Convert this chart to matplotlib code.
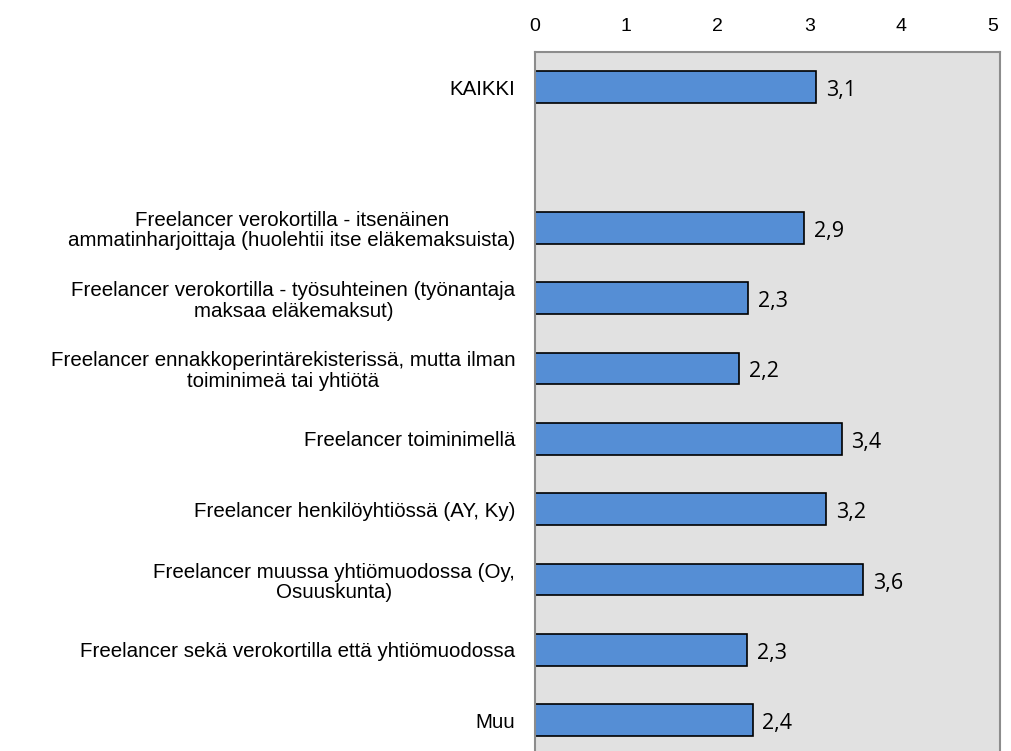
import matplotlib
matplotlib.use("Agg")
import matplotlib.pyplot as plt

categories = ["KAIKKI",
              "",
              "Freelancer verokortilla - itsenäinen\nammatinharjoittaja (huolehtii itse eläkemaksuista)",
              "Freelancer verokortilla - työsuhteinen (työnantaja\nmaksaa eläkemaksut)",
              "Freelancer ennakkoperintärekisterissä, mutta ilman\ntoiminimeä tai yhtiötä",
              "Freelancer toiminimellä",
              "Freelancer henkilöyhtiössä (AY, Ky)",
              "Freelancer muussa yhtiömuodossa (Oy,\nOsuuskunta)",
              "Freelancer sekä verokortilla että yhtiömuodossa",
              "Muu"]
values = [3.07, None, 2.94, 2.33, 2.23, 3.35, 3.18, 3.59, 2.32, 2.38]
xticks = [0, 1, 2, 3, 4, 5]

fig = plt.figure(figsize=(10.11, 7.51), dpi=100)
ax = fig.add_axes([0.529, -0.006, 0.460, 0.937])
ax.set_facecolor("#e1e1e1")

for i, v in enumerate(values):
    if v is None:
        continue  # empty slot under KAIKKI
    ax.barh(i, v, height=0.45, color="#558ed5", edgecolor="black", linewidth=1.2)
    ax.annotate(("%.1f" % v).replace(".", ","), (v, i), xytext=(7, -2.5),
                textcoords="offset points", va="center", ha="left",
                fontsize=15.5, family="Open Sans")

ax.set_ylim(len(categories) - 0.5, -0.5)
ax.set_xlim(0, 5.08)
ax.set_yticks(range(len(categories)))
ax.set_yticklabels(categories, fontsize=14.8, family="Liberation Sans", linespacing=1.1)
for lab in ax.get_yticklabels():
    lab.set_multialignment("center")
ax.tick_params(axis="y", length=0, pad=14)

ax.xaxis.tick_top()
ax.set_xticks(xticks)
ax.set_xticklabels([str(t) for t in xticks], fontsize=14, family="Liberation Sans")
ax.tick_params(axis="x", length=0, pad=12)

for s in ax.spines.values():
    s.set_color("#8c8c8c")
    s.set_linewidth(1.5)

fig.savefig("out.png", dpi=100)
